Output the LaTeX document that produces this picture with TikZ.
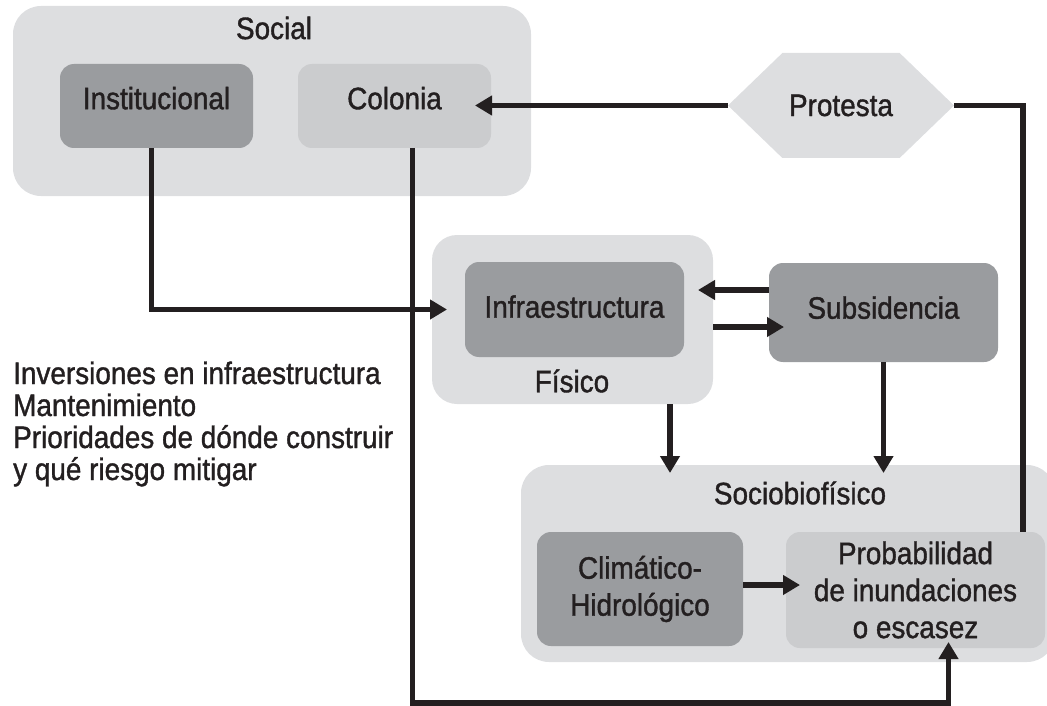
\documentclass[tikz,border=0pt]{standalone}
\usepackage{fontspec}
\setmainfont{Liberation Sans}[FakeStretch=0.9, FakeBold=1.2]
\usepackage{xcolor}
\usetikzlibrary{arrows.meta,positioning,calc,shapes.symbols}
\definecolor{panelgray}{RGB}{221,222,224}
\definecolor{darkfill}{RGB}{154,156,159}
\definecolor{lightfill}{RGB}{203,204,206}
\definecolor{ink}{RGB}{35,31,32}

\begin{document}
\begin{tikzpicture}[
  x=1pt, y=-1pt,
  font=\fontsize{31}{32}\selectfont,
  panel/.style={rounded corners=28pt, fill=panelgray, inner sep=0pt, outer sep=0pt},
  darkbox/.style={rounded corners=14pt, fill=darkfill, text=ink, align=center, inner sep=0pt, outer sep=0pt, font=\fontsize{31}{37}\selectfont},
  lightbox/.style={darkbox, fill=lightfill},
  title/.style={text=ink, inner sep=0pt},
  link/.style={-{Triangle[length=17pt,width=19pt]}, line width=5.5pt, ink},
  wire/.style={line width=5.5pt, ink}
]
\useasboundingbox (0,0) rectangle (1047,706);

% Social panel
\node[panel, minimum width=518pt, minimum height=190pt] (social) at (272,101) {};
\node[title] (socialtitle) at (274,28) {Social};
\node[darkbox, text depth=16pt, minimum width=193pt, minimum height=84pt] (inst) at (156.5,106) {Institucional};
\node[lightbox, text depth=16pt, minimum width=193pt, minimum height=84pt] (colonia) at (394.5,106) {Colonia};

% Protest hexagon
\node[shape=signal, signal to=east and west, signal pointer angle=88, fill=panelgray, text=ink,
  inner sep=0pt, outer sep=0pt, minimum width=226pt, minimum height=105pt] (protesta) at (841,105.5) {Protesta};

% Physical panel
\node[panel, rounded corners=25pt, minimum width=281pt, minimum height=169pt] (fisico) at (572.5,319.5) {};
\node[darkbox, text depth=6pt, minimum width=219pt, minimum height=95pt] (infra) at (574.5,309.5) {Infraestructura};
\node[title] (fisicotitle) at (572,381) {Físico};
\node[darkbox, text depth=10pt, minimum width=229pt, minimum height=99pt] (subs) at (883.5,312.5) {Subsidencia};

% Sociobiophysical panel
\node[panel, minimum width=534pt, minimum height=197pt] (socio) at (788,563.5) {};
\node[title] (sociotitle) at (800,493) {Sociobiofísico};
\node[darkbox, minimum width=206pt, minimum height=114pt] (clima) at (640,589) {Climático-\\Hidrológico};
\node[lightbox, minimum width=259pt, minimum height=116pt] (prob) at (915.5,590) {Probabilidad\\de inundaciones\\o escasez};

% Notes on the left
\node[title, align=left, anchor=base west] (notas) at (13,480)
  {Inversiones en infraestructura\\Mantenimiento\\Prioridades de dónde construir\\y qué riesgo mitigar};

% Connectors
\draw[link, shorten >=-16pt] (protesta.west) -- (protesta.west -| colonia.east);
\draw[wire] (protesta.east) -| ($(prob.north east)+(-22,0)$);
\draw[link, shorten >=18pt] ([xshift=-5pt]inst.south) |- (infra.west);
\draw[link] ([xshift=18pt]colonia.south) |- ($(prob.south)+(33,55)$) -- ($(prob.south)+(33,-6)$);
\draw[link] ($(subs.west)+(0,-22.5)$) -- ($(infra.east)+(14,-19.5)$);
\draw[link] ($(infra.east)+(29,17.5)$) -- ($(subs.west)+(15,14.5)$);
\draw[link] ($(fisico.south)+(97.5,0)$) -- ($(fisico.south |- socio.north)+(97.5,8)$);
\draw[link] (subs.south) -- ($(subs.south |- socio.north)+(0,8)$);
\draw[link] ($(clima.east)+(0,-4)$) -- ($(prob.west)+(14,-5)$);

\end{tikzpicture}
\end{document}
